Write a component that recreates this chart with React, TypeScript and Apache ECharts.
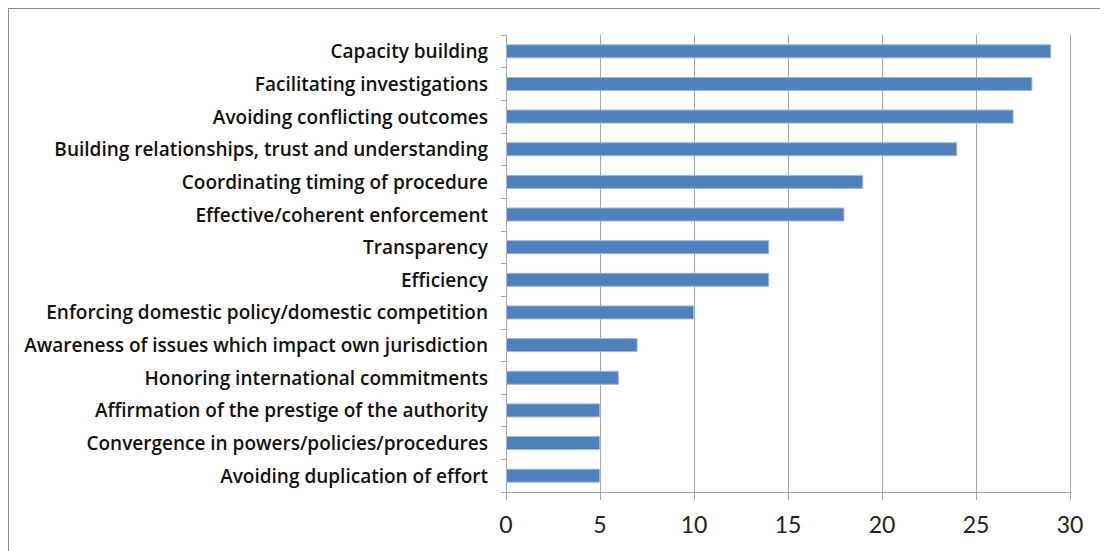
import React, { useEffect, useRef } from "react";
import * as echarts from "echarts";

const categories = [
  "Capacity building",
  "Facilitating investigations",
  "Avoiding conflicting outcomes",
  "Building relationships, trust and understanding",
  "Coordinating timing of procedure",
  "Effective/coherent enforcement",
  "Transparency",
  "Efficiency",
  "Enforcing domestic policy/domestic competition",
  "Awareness of issues which impact own jurisdiction",
  "Honoring international commitments",
  "Affirmation of the prestige of the authority",
  "Convergence in powers/policies/procedures",
  "Avoiding duplication of effort",
];
const values = [29, 28, 27, 24, 19, 18, 14, 14, 10, 7, 6, 5, 5, 5];
const xTicks = [0, 5, 10, 15, 20, 25, 30];

export default function App() {
  const ref = useRef<HTMLDivElement>(null);
  useEffect(() => {
    if (!ref.current) return;
    const chart = echarts.init(ref.current, null, { renderer: "svg" });
    const cats = [...categories].reverse();
    const vals = [...values].reverse();
    chart.setOption({
      animation: false,
      grid: { left: 498, right: 38, top: 27, bottom: 59, containLabel: false },
      graphic: [
        {
          type: "polyline",
          shape: { points: [[0, 600], [0, 0], [1200, 0]] },
          style: { stroke: "#8a8a8a", lineWidth: 2, fill: null },
          silent: true,
        },
      ],
      xAxis: {
        type: "value",
        min: xTicks[0],
        max: xTicks[xTicks.length - 1],
        interval: 5,
        axisLine: { show: true, lineStyle: { color: "#a6a6a6", width: 1 } },
        axisTick: { show: true, length: 8, lineStyle: { color: "#a6a6a6" } },
        splitLine: { show: true, lineStyle: { color: "#a6a6a6", width: 1 } },
        axisLabel: {
          color: "#222",
          fontFamily: "Lato",
          fontSize: 23,
          margin: 20,
        },
      },
      yAxis: {
        type: "category",
        data: cats,
        axisLine: { show: true, lineStyle: { color: "#a6a6a6", width: 1 } },
        axisTick: { show: true, length: 5, lineStyle: { color: "#a6a6a6" } },
        axisLabel: {
          color: "#111",
          fontFamily: "Open Sans",
          fontSize: 19,
          fontWeight: 600,
          margin: 18,
        },
      },
      series: [
        {
          type: "bar",
          data: vals,
          barWidth: 14,
          itemStyle: { color: "#4f81bd", borderColor: "#9bb7dc", borderWidth: 1 },
        },
      ],
    });
    return () => chart.dispose();
  }, []);
  return <div ref={ref} style={{ width: 1100, height: 543 }} />;
}
